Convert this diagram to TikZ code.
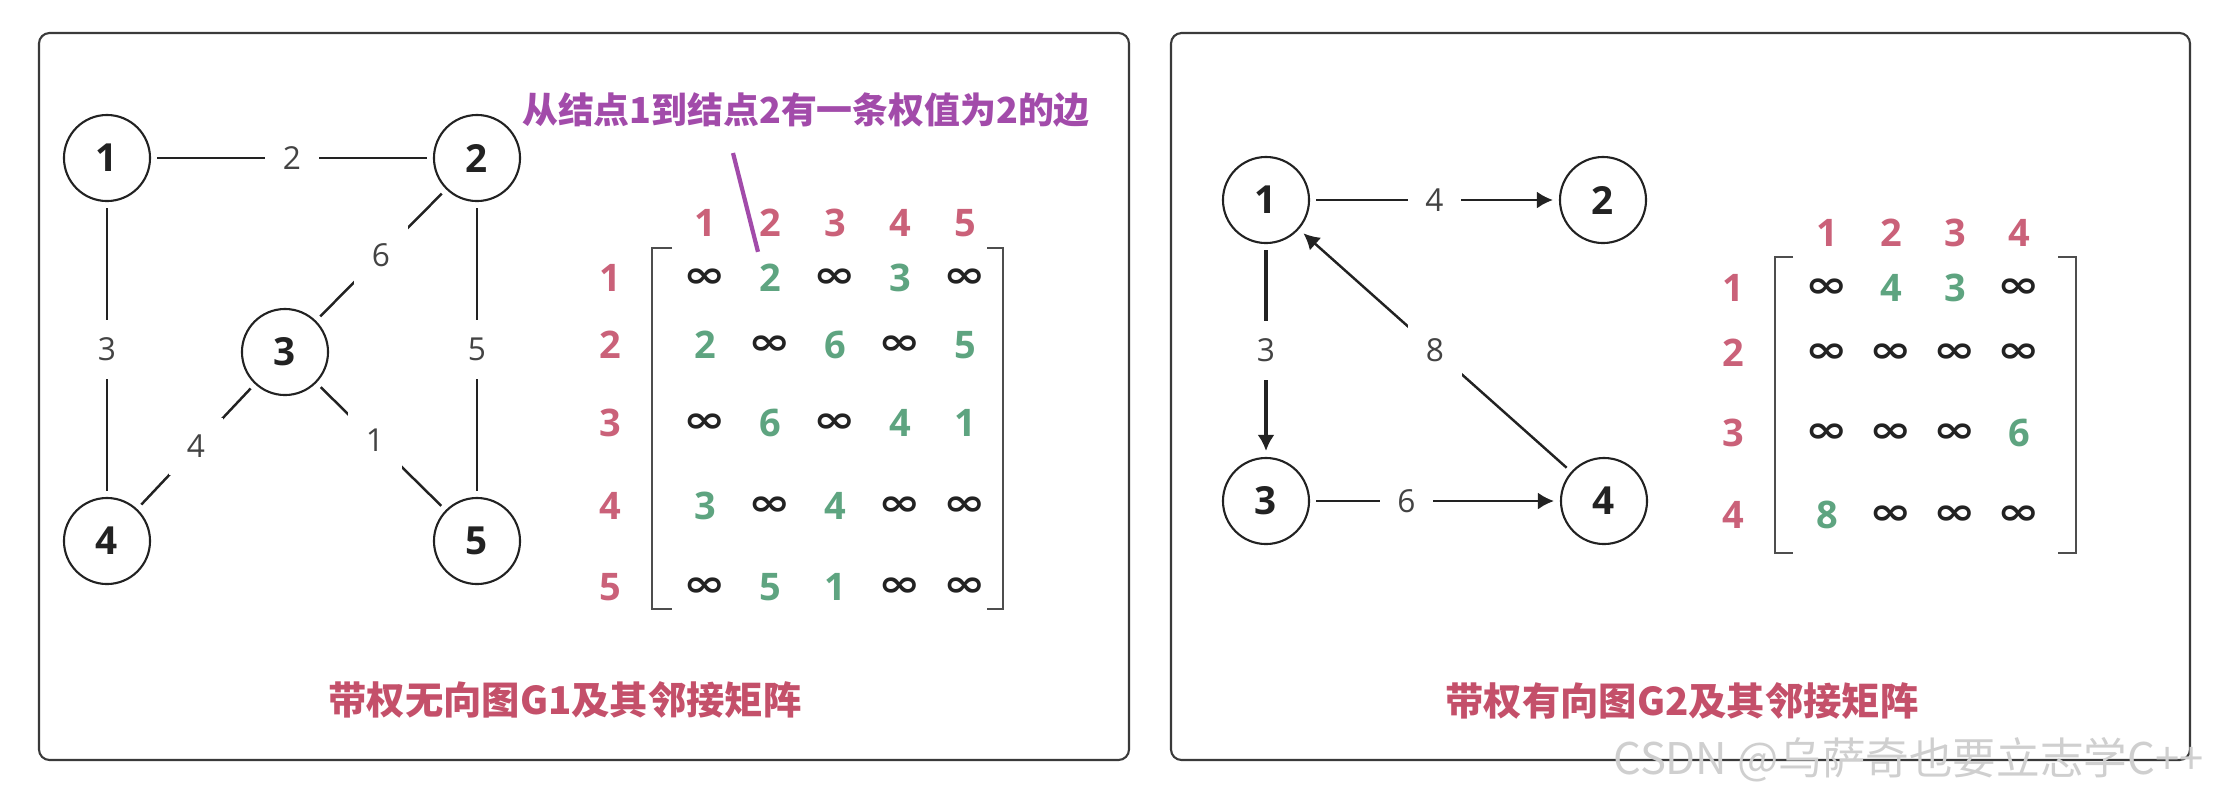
\documentclass[tikz,border=0pt]{standalone}
\usepackage{fontspec}
\setmainfont{Open Sans}
\newfontfamily\cjk{Noto Sans CJK SC}
\newfontfamily\symf{DejaVu Sans}
\usetikzlibrary{arrows.meta, positioning, calc}
\definecolor{rose}{HTML}{C4506A}
\definecolor{leaf}{HTML}{4C9A72}
\definecolor{plum}{HTML}{A24BAA}
\definecolor{ink}{HTML}{222222}
\definecolor{frame}{HTML}{3A3A3A}
\definecolor{wmark}{HTML}{CFCFCF}
\newcommand{\inff}{\scalebox{1.45}[1.05]{\symf\bfseries ∞}}

\begin{document}
\begin{tikzpicture}[
  x=0.01cm, y=-0.01cm,
  >={Latex[length=1.6mm, width=1.7mm]},
  vtx/.style={
    circle, draw=ink, line width=0.6pt, minimum size=8.6mm,
    inner sep=0pt, outer sep=2pt, text=ink,
    font=\bfseries\fontsize{11}{13}\selectfont
  },
  edge/.style={line width=0.7pt, ink},
  wlab/.style={fill=white, inner sep=5pt, text=ink!85,
    font=\fontsize{9}{11}\selectfont},
  hdr/.style={font=\bfseries\fontsize{10.8}{12}\selectfont, text=rose!90},
  val/.style={font=\bfseries\fontsize{10.8}{12}\selectfont, text=leaf!90},
  inf/.style={font=\fontsize{10}{12}\selectfont, text=ink},
  panel/.style={draw=frame, line width=0.6pt, rounded corners=3pt},
  brak/.style={line width=0.6pt, ink!80},
  captxt/.style={font=\cjk\bfseries\fontsize{10.9}{13}\selectfont, text=rose},
]

\useasboundingbox (0,0) rectangle (2227,802);

% Panels
\draw[panel] (39,33) rectangle (1129,760);
\draw[panel] (1171,33) rectangle (2190,760);

% =============================================
% LEFT: undirected graph G1
% =============================================
\node[vtx] (a1) at (107,158) {1};
\node[vtx] (a2) at (477,158) {2};
\node[vtx] (a3) at (285,352) {3};
\node[vtx] (a4) at (107,541) {4};
\node[vtx] (a5) at (477,541) {5};

\draw[edge] (a1) -- node[wlab] {2} (a2);
\draw[edge] (a1) -- node[wlab] {3} (a4);
\draw[edge] (a2) -- node[wlab] {6} (a3);
\draw[edge] (a2) -- node[wlab] {5} (a5);
\draw[edge] (a3) -- node[wlab] {4} (a4);
\draw[edge] (a3) -- node[wlab, pos=0.45] {1} (a5);

% Adjacency matrix of G1
\foreach \c in {1,...,5}
  \node[hdr] (h1-c\c) at ({640+65*\c},223) {\c};
\foreach \r/\y in {1/278, 2/345, 3/423, 4/506, 5/587}
  \node[hdr] (h1-r\r) at (610,\y) {\r};

\foreach \s/\v [count=\c] in {inf/\inff, val/2, inf/\inff, val/3, inf/\inff}
  \node[\s] (m1-1-\c) at ({640+65*\c},278) {\v};
\foreach \s/\v [count=\c] in {val/2, inf/\inff, val/6, inf/\inff, val/5}
  \node[\s] (m1-2-\c) at ({640+65*\c},345) {\v};
\foreach \s/\v [count=\c] in {inf/\inff, val/6, inf/\inff, val/4, val/1}
  \node[\s] (m1-3-\c) at ({640+65*\c},423) {\v};
\foreach \s/\v [count=\c] in {val/3, inf/\inff, val/4, inf/\inff, inf/\inff}
  \node[\s] (m1-4-\c) at ({640+65*\c},506) {\v};
\foreach \s/\v [count=\c] in {inf/\inff, val/5, val/1, inf/\inff, inf/\inff}
  \node[\s] (m1-5-\c) at ({640+65*\c},587) {\v};

\draw[brak] (672,248) -- (652,248) -- (652,609) -- (672,609);
\draw[brak] (987,248) -- (1003,248) -- (1003,609) -- (987,609);

% Note on entry (1,2)
\node[font=\cjk\bfseries\fontsize{10.2}{12}\selectfont, text=plum]
  (note) at (806,110) {从结点1到结点2有一条权值为2的边};
\coordinate (ptrtop) at (733,153);
\draw[plum, line width=1.2pt] (ptrtop) -- ([xshift=-1.2mm]m1-1-2.north);

\node[captxt] (cap1) at (565,700) {带权无向图G1及其邻接矩阵};

% =============================================
% RIGHT: directed graph G2
% =============================================
\node[vtx] (b1) at (1266,200) {1};
\node[vtx] (b2) at (1603,200) {2};
\node[vtx] (b3) at (1266,501) {3};
\node[vtx] (b4) at (1604,501) {4};

\draw[edge, ->] (b1) -- node[wlab] {4} (b2);
\draw[edge, ->, line width=0.9pt] (b1) -- node[wlab] {3} (b3);
\draw[edge, ->] (b4) -- node[wlab] {8} (b1);
\draw[edge, ->] (b3) -- node[wlab, pos=0.38] {6} (b4);

% Adjacency matrix of G2
\foreach \c in {1,...,4}
  \node[hdr] (h2-c\c) at ({1763+64*\c},233) {\c};
\foreach \r/\y in {1/288, 2/353, 3/433, 4/515}
  \node[hdr] (h2-r\r) at (1733,\y) {\r};

\foreach \s/\v [count=\c] in {inf/\inff, val/4, val/3, inf/\inff}
  \node[\s] (m2-1-\c) at ({1763+64*\c},288) {\v};
\foreach \s/\v [count=\c] in {inf/\inff, inf/\inff, inf/\inff, inf/\inff}
  \node[\s] (m2-2-\c) at ({1763+64*\c},353) {\v};
\foreach \s/\v [count=\c] in {inf/\inff, inf/\inff, inf/\inff, val/6}
  \node[\s] (m2-3-\c) at ({1763+64*\c},433) {\v};
\foreach \s/\v [count=\c] in {val/8, inf/\inff, inf/\inff, inf/\inff}
  \node[\s] (m2-4-\c) at ({1763+64*\c},515) {\v};

\draw[brak] (1793,257) -- (1775,257) -- (1775,553) -- (1793,553);
\draw[brak] (2058,257) -- (2076,257) -- (2076,553) -- (2058,553);

\node[captxt] (cap2) at (1682,701) {带权有向图G2及其邻接矩阵};

% Watermark
\node[font=\cjk\fontsize{12.4}{14}\selectfont, text=wmark, anchor=east]
  (wm) at (2216,760) {CSDN @乌萨奇也要立志学C++};

\end{tikzpicture}
\end{document}
